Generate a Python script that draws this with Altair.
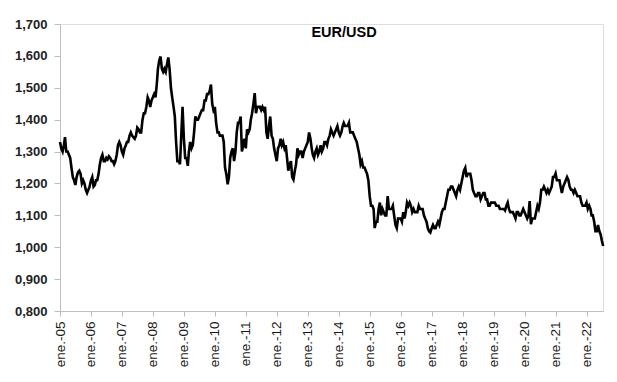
import altair as alt
import pandas as pd

# Semi-monthly readings (1st and 16th of each month) of EUR/USD
years = list(range(2005, 2023))
v2005 = [1.33, 1.31, 1.30, 1.32, 1.345, 1.30, 1.30, 1.29, 1.28, 1.25, 1.22, 1.21,
         1.195, 1.22, 1.235, 1.24, 1.23, 1.20, 1.21, 1.20, 1.18, 1.17, 1.18, 1.19]
v2006 = [1.21, 1.22, 1.19, 1.195, 1.21, 1.21, 1.23, 1.26, 1.28, 1.29, 1.27, 1.27,
         1.28, 1.275, 1.285, 1.28, 1.27, 1.27, 1.26, 1.27, 1.29, 1.32, 1.33, 1.32]
v2007 = [1.30, 1.29, 1.31, 1.32, 1.33, 1.33, 1.35, 1.36, 1.35, 1.345, 1.34, 1.35,
         1.375, 1.37, 1.36, 1.36, 1.40, 1.42, 1.42, 1.44, 1.47, 1.46, 1.44, 1.46]
v2008 = [1.47, 1.48, 1.47, 1.51, 1.56, 1.585, 1.598, 1.56, 1.55, 1.56, 1.55, 1.575,
         1.595, 1.56, 1.50, 1.47, 1.44, 1.41, 1.33, 1.27, 1.27, 1.26, 1.35, 1.44]
v2009 = [1.34, 1.28, 1.28, 1.255, 1.30, 1.33, 1.31, 1.32, 1.36, 1.41, 1.40, 1.40,
         1.41, 1.42, 1.43, 1.43, 1.46, 1.46, 1.48, 1.48, 1.49, 1.51, 1.45, 1.43]
v2010 = [1.44, 1.39, 1.36, 1.36, 1.35, 1.35, 1.35, 1.33, 1.25, 1.23, 1.197, 1.22,
         1.28, 1.30, 1.31, 1.27, 1.30, 1.36, 1.39, 1.39, 1.41, 1.30, 1.32, 1.34]
v2011 = [1.31, 1.37, 1.36, 1.37, 1.40, 1.42, 1.45, 1.483, 1.42, 1.44, 1.44, 1.44,
         1.43, 1.44, 1.43, 1.44, 1.36, 1.34, 1.38, 1.41, 1.35, 1.34, 1.31, 1.29]
v2012 = [1.27, 1.31, 1.32, 1.34, 1.32, 1.33, 1.31, 1.32, 1.28, 1.24, 1.26, 1.27,
         1.22, 1.212, 1.24, 1.26, 1.31, 1.29, 1.30, 1.30, 1.28, 1.30, 1.31, 1.32]
v2013 = [1.33, 1.36, 1.34, 1.31, 1.29, 1.28, 1.30, 1.31, 1.29, 1.30, 1.32, 1.30,
         1.31, 1.33, 1.33, 1.32, 1.34, 1.35, 1.37, 1.36, 1.35, 1.36, 1.37, 1.38]
v2014 = [1.36, 1.35, 1.36, 1.38, 1.39, 1.38, 1.38, 1.38, 1.39, 1.36, 1.36, 1.36,
         1.35, 1.34, 1.33, 1.31, 1.29, 1.26, 1.27, 1.25, 1.25, 1.24, 1.23, 1.21]
v2015 = [1.16, 1.13, 1.13, 1.12, 1.06, 1.08, 1.08, 1.12, 1.14, 1.10, 1.12, 1.11,
         1.10, 1.10, 1.16, 1.12, 1.12, 1.12, 1.13, 1.10, 1.07, 1.06, 1.09, 1.09]
v2016 = [1.09, 1.08, 1.11, 1.09, 1.11, 1.14, 1.13, 1.14, 1.13, 1.11, 1.12, 1.11,
         1.11, 1.11, 1.13, 1.12, 1.12, 1.12, 1.10, 1.09, 1.08, 1.06, 1.05, 1.046]
v2017 = [1.06, 1.07, 1.06, 1.06, 1.07, 1.08, 1.07, 1.09, 1.11, 1.12, 1.12, 1.14,
         1.16, 1.18, 1.18, 1.19, 1.19, 1.18, 1.17, 1.16, 1.18, 1.19, 1.18, 1.20]
v2018 = [1.22, 1.24, 1.249, 1.22, 1.23, 1.23, 1.23, 1.21, 1.18, 1.17, 1.16, 1.16,
         1.17, 1.17, 1.15, 1.16, 1.17, 1.17, 1.15, 1.15, 1.13, 1.13, 1.14, 1.14]
v2019 = [1.14, 1.14, 1.13, 1.13, 1.13, 1.12, 1.12, 1.12, 1.12, 1.115, 1.13, 1.14,
         1.12, 1.11, 1.11, 1.11, 1.10, 1.09, 1.11, 1.11, 1.10, 1.10, 1.11, 1.12]
v2020 = [1.11, 1.10, 1.09, 1.10, 1.145, 1.072, 1.09, 1.09, 1.09, 1.11, 1.13, 1.12,
         1.14, 1.18, 1.18, 1.19, 1.18, 1.17, 1.18, 1.17, 1.18, 1.19, 1.22, 1.22]
v2021 = [1.231, 1.21, 1.21, 1.21, 1.19, 1.17, 1.19, 1.20, 1.21, 1.22, 1.21, 1.19,
         1.18, 1.18, 1.17, 1.18, 1.17, 1.16, 1.16, 1.16, 1.14, 1.13, 1.13, 1.13]
v2022 = [1.14, 1.12, 1.13, 1.12, 1.10, 1.10, 1.08, 1.05, 1.05, 1.07, 1.05, 1.04,
         1.02, 1.004]
series = [v2005, v2006, v2007, v2008, v2009, v2010, v2011, v2012, v2013,
          v2014, v2015, v2016, v2017, v2018, v2019, v2020, v2021, v2022]

y_ticks = [0.8, 0.9, 1.0, 1.1, 1.2, 1.3, 1.4, 1.5, 1.6, 1.7]

rows = []
for yr, vals in zip(years, series):
    for i, v in enumerate(vals):
        month = i // 2 + 1
        day = 1 if i % 2 == 0 else 16
        rows.append({"date": f"{yr}-{month:02d}-{day:02d}", "value": v})
df = pd.DataFrame(rows)

x_ticks = [alt.DateTime(year=y, month=1, date=1) for y in years]

line = alt.Chart(df).mark_line(color="black", strokeWidth=2.6, strokeJoin="miter").encode(
    x=alt.X("date:T",
            scale=alt.Scale(domain=[alt.DateTime(year=2005, month=1, date=1),
                                    alt.DateTime(year=2022, month=7, date=14)]),
            axis=alt.Axis(values=x_ticks, labelExpr="'ene.-' + timeFormat(datum.value, '%y')",
                          labelAngle=270, title=None, grid=False, domainColor="#bdbdbd",
                          tickColor="#bdbdbd", tickSize=5, labelPadding=5,
                          labelFont="Liberation Sans", labelFontSize=13.5,
                          labelColor="#1a1a1a", labelFlush=False, labelOverlap=False)),
    y=alt.Y("value:Q",
            scale=alt.Scale(domain=[0.8, 1.7], nice=False, zero=False),
            axis=alt.Axis(values=y_ticks, labelExpr="replace(format(datum.value, '.3f'), '.', ',')",
                          title=None, grid=False, domainColor="#bdbdbd", tickColor="#bdbdbd",
                          tickSize=6, labelPadding=7, labelFont="Liberation Sans",
                          labelFontSize=13, labelFontWeight="bold", labelColor="#222222")),
)

title = alt.Chart(pd.DataFrame({"t": ["EUR/USD"]})).mark_text(
    font="Liberation Sans", fontSize=14.5, fontWeight="bold", color="black",
    align="center", baseline="alphabetic"
).encode(text="t:N", x=alt.value(284), y=alt.value(13))

chart = alt.layer(line, title).properties(
    width=543, height=287,
    autosize=alt.AutoSizeParams(type="none"),
    padding={"left": 52, "top": 16, "right": 6, "bottom": 63},
).configure_view(stroke=None).configure(background="white")

chart.save("out.html", embed_options={"renderer": "svg", "actions": False})
